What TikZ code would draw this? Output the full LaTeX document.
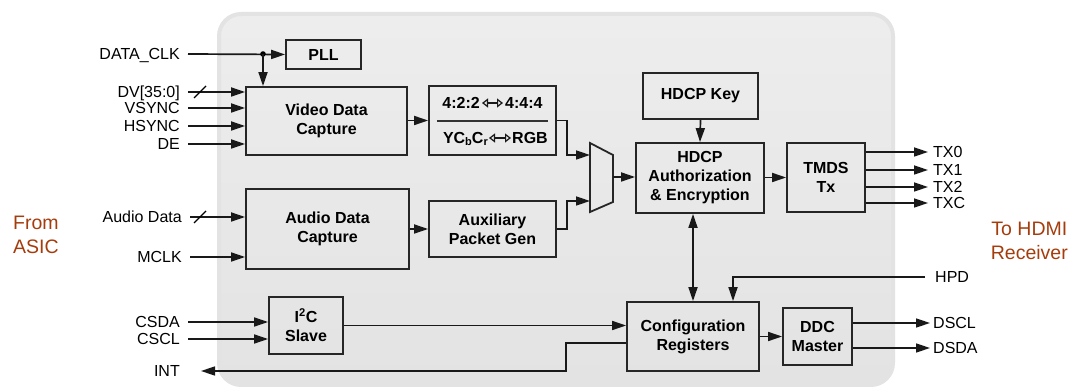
\documentclass[tikz,border=0pt]{standalone}
\usepackage{fontspec}
\setmainfont{Liberation Sans}
\usetikzlibrary{arrows.meta,calc}
\definecolor{asicred}{RGB}{165,60,12}
\begin{document}
\begin{tikzpicture}[x=1pt,y=-1pt,
			blk/.style={draw=black!85,line width=1.8pt,align=center,
				font=\fontsize{16}{19}\selectfont\bfseries,inner sep=0pt},
			lbl/.style={inner sep=0pt,text height=11.5pt,text depth=0pt,
				font=\fontsize{16}{19}\selectfont},
			fmt/.style={lbl,font=\fontsize{16}{19}\selectfont\bfseries},
			convarr/.style={line width=1.2pt,draw=black!90,
				{Triangle[open,length=6pt,width=9pt]}-{Triangle[open,length=6pt,width=9pt]}},
			side/.style={align=center,text=asicred,inner sep=0pt,
				font=\fontsize{19.5}{24}\selectfont},
			wire/.style={line width=1.7pt,draw=black!90,
				-{Triangle[length=14pt,width=9pt]}},
			line join=miter]
\useasboundingbox (0,0) rectangle (1072,387);
% chip outline
\path[draw=black!11,line width=4pt,rounded corners=22pt,
	top color=black!7,middle color=black!2,bottom color=black!11]
	(219,14) rectangle (893,385);
% blocks
\node[blk,minimum width=75pt,minimum height=29pt] (pll) at (323.5,54.5) {PLL};
\node[blk,minimum width=161pt,minimum height=68pt] (vdc) at (326.5,121) {Video Data\\Capture};
\node[blk,minimum width=127pt,minimum height=69pt] (conv) at (492.5,120.5) {};
\node[blk,minimum width=163pt,minimum height=80pt] (adc) at (327.5,229) {Audio Data\\Capture};
\node[blk,minimum width=127pt,minimum height=56pt] (aux) at (492.5,229) {Auxiliary\\Packet Gen};
\node[blk,minimum width=115pt,minimum height=46pt] (key) at (700.5,96) {HDCP Key};
\node[blk,minimum width=128pt,minimum height=70pt] (hdcp) at (700,178) {HDCP\\Authorization\\\& Encryption};
\node[blk,minimum width=78pt,minimum height=69pt] (tmds) at (826,177.5) {TMDS\\Tx};
\node[blk,minimum width=74pt,minimum height=57pt] (itc) at (306,325.5) {I\textsuperscript{2}C\\Slave};
\node[blk,minimum width=132pt,minimum height=69pt] (cfg) at (693,336.5) {Configuration\\Registers};
\node[blk,minimum width=69pt,minimum height=57pt] (ddc) at (817.5,336.5) {DDC\\Master};
% colour space converter
\node[fmt,anchor=east] (s422) at (480,103) {4:2:2};
\node[fmt,anchor=west] (s444) at (505,103) {4:4:4};
\draw[convarr] ([xshift=2pt]s422.east) -- ([xshift=-2pt]s444.west);
\node[fmt,anchor=east] (sycc) at (488,138)
	{YC\raisebox{-1.5pt}{\fontsize{11}{11}\selectfont b}C\raisebox{-1.5pt}{\fontsize{11}{11}\selectfont r}};
\node[fmt,anchor=west] (srgb) at (512,138) {RGB};
\draw[convarr] ([xshift=1pt]sycc.east) -- ([xshift=-1pt]srgb.west);
\draw[line width=1.3pt,black!80] (437,121) -- (548,121);
% mux
\coordinate (mux1) at (590,155);
\coordinate (mux2) at (590,201);
\coordinate (muxo) at (613,177);
\draw[line width=1.8pt,black!85] (590,143) -- (613,155) -- (613,202) -- (590,212) -- cycle;
% pins, left
\node[lbl,anchor=east] (clk) at (180,54) {DATA\_CLK};
\node[lbl,anchor=east] (dv) at (180,92) {DV[35:0]};
\node[lbl,anchor=east] (vs) at (180,108) {VSYNC};
\node[lbl,anchor=east] (hs) at (180,126) {HSYNC};
\node[lbl,anchor=east] (de) at (180,144) {DE};
\node[lbl,anchor=east] (ad) at (182,217) {Audio Data};
\node[lbl,anchor=east] (mclk) at (182,257) {MCLK};
\node[lbl,anchor=east] (csda) at (180,322) {CSDA};
\node[lbl,anchor=east] (cscl) at (180,339) {CSCL};
\node[lbl,anchor=east] (int) at (180,371) {INT};
% pins, right
\node[lbl,anchor=west] (tx0) at (933,152) {TX0};
\node[lbl,anchor=west] (tx1) at (933,170) {TX1};
\node[lbl,anchor=west] (tx2) at (933,187) {TX2};
\node[lbl,anchor=west] (txc) at (933,203) {TXC};
\node[lbl,anchor=west] (hpd) at (935,277) {HPD};
\node[lbl,anchor=west] (dscl) at (933,323) {DSCL};
\node[lbl,anchor=west] (dsda) at (933,348) {DSDA};
\node[side,anchor=west] (asic) at (13,235) {From\\ASIC};
\node[side,anchor=east] (rx) at (1068,240.5) {\hfill To HDMI\\Receiver};
% connections
\coordinate (jclk) at (263,54);
\draw[wire] ([xshift=8pt]clk.east) -- (pll.west);
\fill (jclk) circle (2.8pt);
\draw[wire] (jclk) -- (jclk |- vdc.north);
\foreach \p in {dv,vs,hs,de}
	\draw[wire] ([xshift=8pt]\p.east) -- (vdc.west |- \p.east);
\draw[wire] (vdc.east |- conv.west) -- (conv.west);
\draw[wire] (conv.east) -- ++(10,0) |- (mux1);
\foreach \p in {ad,mclk}
	\draw[wire] ([xshift=8pt]\p.east) -- (adc.west |- \p.east);
\draw[line width=1.1pt] (194,98) -- (206,86);
\draw[line width=1.1pt] (194,223) -- (206,211);
\draw[wire] (adc.east) -- (aux.west);
\draw[wire] (aux.east) -- ++(10,0) |- (mux2);
\draw[wire] (muxo) -- (hdcp.west |- muxo);
\draw[wire] (key.south) -- (hdcp.north);
\draw[wire] (hdcp.east |- tmds.west) -- (tmds.west);
\foreach \p in {tx0,tx1,tx2,txc}
	\draw[wire] (tmds.east |- \p.west) -- ([xshift=-5pt]\p.west);
\draw[wire,{Triangle[length=14pt,width=9pt]}-{Triangle[length=14pt,width=9pt]}]
	(cfg.north |- hdcp.south) -- (cfg.north);
\draw[wire] ([xshift=-10pt]hpd.west) -| ([xshift=40pt]cfg.north);
\foreach \p in {csda,cscl}
	\draw[wire] ([xshift=8pt]\p.east) -- (itc.west |- \p.east);
\draw[wire] (itc.east) -- (cfg.west |- itc.east);
\draw[wire] ([yshift=-6.5pt]cfg.west) -- ++(-60,0) |- ([xshift=21pt]int.east);
\draw[wire] (cfg.east) -- (ddc.west);
\foreach \p in {dscl,dsda}
	\draw[wire] (ddc.east |- \p.west) -- ([xshift=-3pt]\p.west);
\end{tikzpicture}
\end{document}
